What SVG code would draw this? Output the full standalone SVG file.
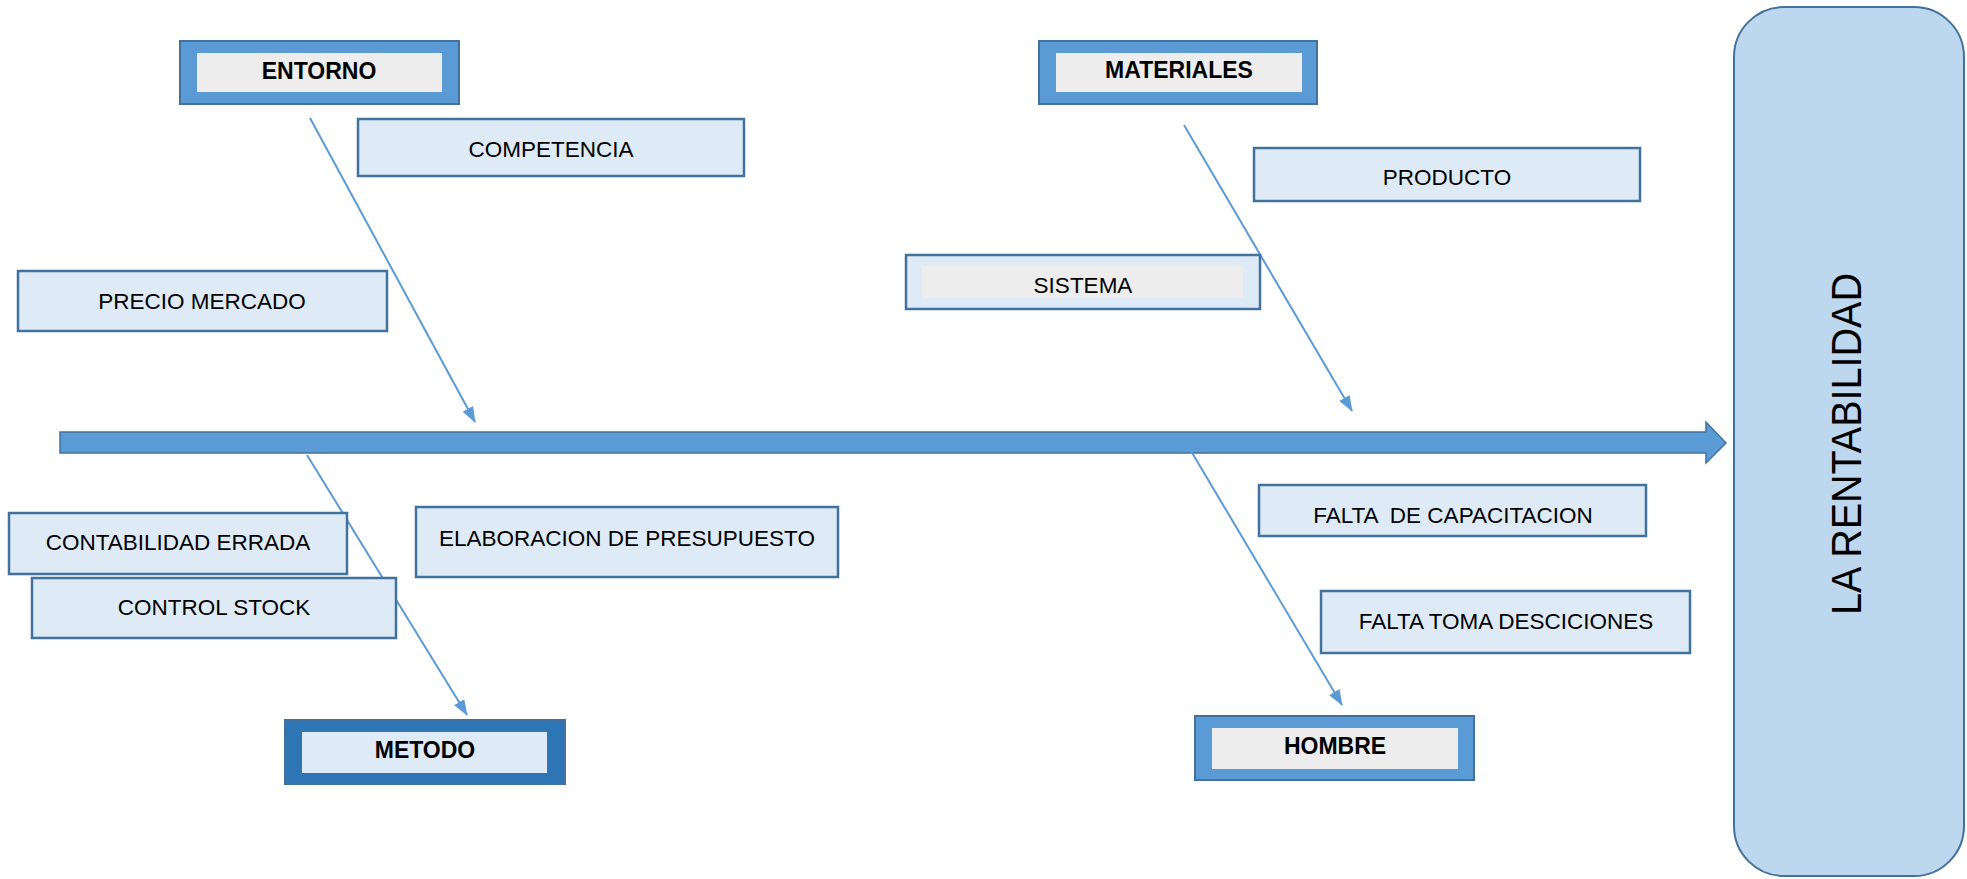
<svg xmlns="http://www.w3.org/2000/svg" width="1967" height="879" viewBox="0 0 1967 879">
<defs>
<style>
.cause{fill:#DEEBF7;stroke:#41719C;stroke-width:2.5}
.cat{fill:#5B9BD5;stroke:#41719C;stroke-width:2}
.catd{fill:#2E75B6;stroke:#41719C;stroke-width:2}
.inner{fill:#EDEDED}
.innerb{fill:#DEEBF7}
.t{font-family:"Liberation Sans",Arial,sans-serif;font-size:22.5px;fill:#000;text-anchor:middle;white-space:pre}
.b{font-weight:bold;font-size:23px}
.bone{stroke:#5B9BD5;stroke-width:2;fill:none;marker-end:url(#ah)}
</style>
<marker id="ah" viewBox="0 0 16 12" refX="15" refY="6" markerWidth="16" markerHeight="12" markerUnits="userSpaceOnUse" orient="auto">
<path d="M0,0 L16,6 L0,12 Z" fill="#5B9BD5"/>
</marker>
</defs>
<rect width="1967" height="879" fill="#FFFFFF"/>

<g id="effect">
<rect x="1734" y="7" width="230" height="869" rx="50" ry="50" fill="#BDD7EE" stroke="#41719C" stroke-width="2"/>
<text transform="translate(1861,444) rotate(-90)" x="0" y="0" font-family="Liberation Sans,Arial,sans-serif" font-size="43" text-anchor="middle" textLength="342" lengthAdjust="spacingAndGlyphs" fill="#000">LA RENTABILIDAD</text>
</g>

<g id="connectors">
<polygon points="60,432 1706,432 1706,422 1726,443 1706,463 1706,453 60,453" fill="#5B9BD5" stroke="#41719C" stroke-width="1.5"/>
<line class="bone" x1="310" y1="118" x2="475" y2="422"/>
<line class="bone" x1="1184" y1="125" x2="1352" y2="411"/>
<line class="bone" x1="307" y1="455" x2="467" y2="715"/>
<line class="bone" x1="1191" y1="451" x2="1342" y2="705"/>
</g>

<g id="entorno">
<rect class="cat" x="180" y="41" width="279" height="63"/>
<rect class="inner" x="197" y="53" width="245" height="39"/>
<text class="t b" x="319" y="79">ENTORNO</text>
</g>

<g id="competencia">
<rect class="cause" x="358" y="119" width="386" height="57"/>
<text class="t" x="551" y="157">COMPETENCIA</text>
</g>

<g id="precio-mercado">
<rect class="cause" x="18" y="271" width="369" height="60"/>
<text class="t" x="202" y="309">PRECIO MERCADO</text>
</g>

<g id="materiales">
<rect class="cat" x="1039" y="41" width="278" height="63"/>
<rect class="inner" x="1056" y="53" width="246" height="39"/>
<text class="t b" x="1179" y="78">MATERIALES</text>
</g>

<g id="producto">
<rect class="cause" x="1254" y="148" width="386" height="53"/>
<text class="t" x="1447" y="185">PRODUCTO</text>
</g>

<g id="sistema">
<rect class="cause" x="906" y="255" width="354" height="54"/>
<rect class="inner" x="922" y="266" width="321" height="32"/>
<text class="t" x="1083" y="293">SISTEMA</text>
</g>

<g id="contabilidad-errada">
<rect class="cause" x="9" y="513" width="338" height="61"/>
<text class="t" x="178" y="550">CONTABILIDAD ERRADA</text>
</g>

<g id="control-stock">
<rect class="cause" x="32" y="578" width="364" height="60"/>
<text class="t" x="214" y="615">CONTROL STOCK</text>
</g>

<g id="elaboracion-presupuesto">
<rect class="cause" x="416" y="507" width="422" height="70"/>
<text class="t" x="627" y="546">ELABORACION DE PRESUPUESTO</text>
</g>

<g id="metodo">
<rect class="catd" x="285" y="720" width="280" height="64"/>
<rect class="innerb" x="302" y="732" width="245" height="41"/>
<text class="t b" x="425" y="758">METODO</text>
</g>

<g id="falta-capacitacion">
<rect class="cause" x="1259" y="485" width="387" height="51"/>
<text class="t" x="1453" y="523">FALTA  DE CAPACITACION</text>
</g>

<g id="falta-toma-decisiones">
<rect class="cause" x="1321" y="591" width="369" height="62"/>
<text class="t" x="1506" y="629">FALTA TOMA DESCICIONES</text>
</g>

<g id="hombre">
<rect class="cat" x="1195" y="716" width="279" height="64"/>
<rect class="inner" x="1212" y="728" width="246" height="41"/>
<text class="t b" x="1335" y="754">HOMBRE</text>
</g>
</svg>
